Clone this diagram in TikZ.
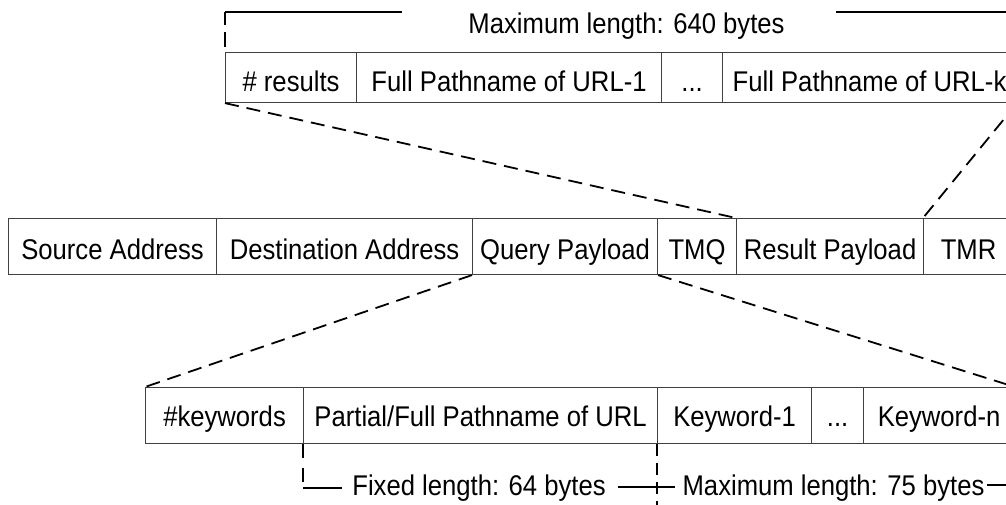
\documentclass[tikz,border=0pt]{standalone}
\usepackage{fontspec}
\setmainfont{Liberation Sans}[FakeStretch=0.9]
\begin{document}
\begin{tikzpicture}[x=1pt,y=-1pt,
  font=\fontsize{28.5pt}{30pt}\selectfont,
  cell/.style={draw=black!75, line width=1.1pt, inner sep=0pt, anchor=north west, text depth=0pt},
  toprow/.style={cell, minimum height=50pt, text height=27pt},
  midrow/.style={cell, minimum height=56pt, text height=26pt},
  botrow/.style={cell, minimum height=56pt, text height=22pt},
  conn/.style={line width=1.8pt, dash pattern=on 14pt off 8pt},
  bline/.style={line width=1.8pt},
  thinline/.style={line width=1.5pt},
  vdashA/.style={line width=1.8pt, dash pattern=on 15pt off 7pt},
  vdashB/.style={line width=1.6pt, dash pattern=on 14pt off 10pt},
  vdashC/.style={line width=1.6pt, dash pattern=on 12pt off 7pt},
  label/.style={anchor=base, inner sep=0pt}]
\useasboundingbox (0,0) rectangle (1006,504);
\fill[white] (0,0) rectangle (1006,504);
\clip (0,0) rectangle (1006,504);

% top row
\node[toprow, minimum width=131pt] (r1) at (225,52) {\# results};
\node[toprow, minimum width=305pt] (r2) at (356,52) {Full Pathname of URL-1};
\node[toprow, minimum width=61pt]  (r3) at (661,52) {...};
\node[toprow, minimum width=294pt] (r4) at (722,52) {Full Pathname of URL-k};

% middle row
\node[midrow, minimum width=208pt] (m1) at (8,218) {Source Address};
\node[midrow, minimum width=256pt] (m2) at (216,218) {Destination Address};
\node[midrow, minimum width=185pt] (m3) at (472,218) {Query Payload};
\node[midrow, minimum width=79pt]  (m4) at (657,218) {TMQ};
\node[midrow, minimum width=187pt] (m5) at (736,218) {Result Payload};
\node[midrow, minimum width=90pt]  (m6) at (923,218) {TMR};

% bottom row
\node[botrow, minimum width=158pt] (b1) at (145,387) {\#keywords};
\node[botrow, minimum width=354pt] (b2) at (303,387) {Partial/Full Pathname of URL};
\node[botrow, minimum width=154pt] (b3) at (657,387) {Keyword-1};
\node[botrow, minimum width=52pt]  (b4) at (811,387) {...};
\node[botrow, minimum width=151pt] (b5) at (863,387) {Keyword-n};

% connectors
\draw[conn] (r1.south west) -- (m5.north west);
\draw[conn] (r4.south east) -- (m6.north west);
\draw[conn] (m3.south west) -- (b1.north west);
\draw[conn] (m3.south east) -- (b5.north east);

% top annotation
\node[label] (lab640) at (626.5,33) {Maximum length: 640 bytes};
\coordinate (tlA) at (225,47);
\coordinate (tlB) at (225,12);
\coordinate (tlC) at (402,12);
\coordinate (trA) at (836,12);
\coordinate (trB) at (1016,12);
\draw[vdashA] (tlA) -- (tlB);
\draw[bline] (tlB) -- (tlC);
\draw[bline] (trA) -- (trB);

% bottom annotations
\node[label] (lab64) at (479,495) {Fixed length: 64 bytes};
\node[label] (lab75) at (833.5,495) {Maximum length: 75 bytes};
\coordinate (blA) at (303,488);
\coordinate (blB) at (342,488);
\coordinate (bmA) at (618,487);
\coordinate (bmB) at (675,487);
\coordinate (bmV) at (657,510);
\coordinate (brA) at (987,485);
\coordinate (brB) at (1016,485);
\draw[vdashB] (b2.south west) -- (blA);
\draw[thinline] (blA) -- (blB);
\draw[vdashC] (b3.south west) -- (bmV);
\draw[thinline] (bmA) -- (bmB);
\draw[thinline] (brA) -- (brB);
\end{tikzpicture}
\end{document}
